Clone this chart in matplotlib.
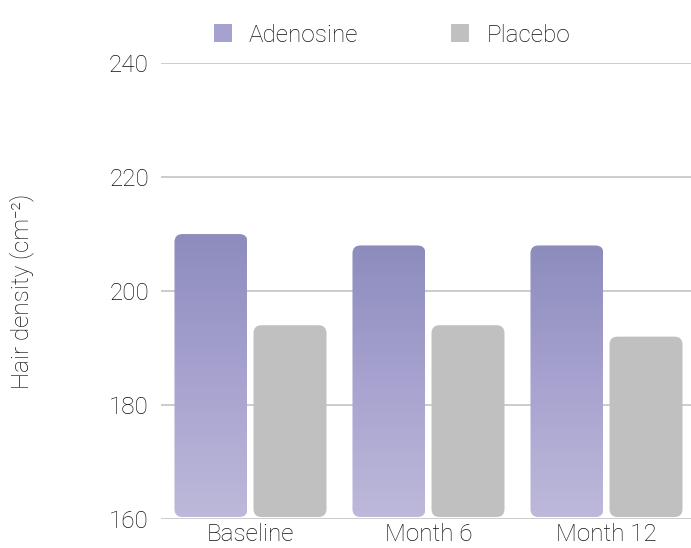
import numpy as np
import matplotlib.pyplot as plt
from matplotlib.patches import FancyBboxPatch, Patch
from matplotlib.colors import LinearSegmentedColormap

plt.rcParams['font.family'] = ['Roboto', 'DejaVu Sans']
plt.rcParams['font.weight'] = 'light'
plt.rcParams['axes.labelweight'] = 'light'

categories = ["Baseline", "Month 6", "Month 12"]
adenosine = [210, 208, 208]
placebo = [194, 194, 192]
y_ticks = [160, 180, 200, 220, 240]

fig = plt.figure(figsize=(6.91, 5.48), dpi=100)
ax_rect = [0.2337, 0.0529, 0.7728, 0.832]
ax = fig.add_axes(ax_rect)

ymin, ymax = 160, 240
xmin, xmax = -0.5, 2.5

# px per data unit, for round corners
px_x = ax_rect[2] * 691 / (xmax - xmin)
px_y = ax_rect[3] * 548 / (ymax - ymin)
aspect = px_x / px_y

grad_cmap = LinearSegmentedColormap.from_list("ado", ["#bdb9da", "#a7a2cf", "#8c8cbd"])

width = 0.41
offset = 0.222
base = 160.35
r = 8 / px_x
txt = "#111111"

x = np.arange(len(categories))

def rounded_bar(xc, top, face=None, gradient=False):
    patch = FancyBboxPatch((xc - width / 2, base), width, top - base,
                           boxstyle=f"round,pad=0,rounding_size={r}",
                           mutation_aspect=aspect,
                           facecolor=face if face else "none",
                           edgecolor="none", zorder=3)
    ax.add_patch(patch)
    if gradient:
        g = np.linspace(0, 1, 256).reshape(-1, 1)
        im = ax.imshow(g, cmap=grad_cmap, origin="lower", aspect="auto",
                       extent=[xc - width / 2, xc + width / 2, base, top],
                       zorder=3)
        im.set_clip_path(patch)

for i in range(len(categories)):
    rounded_bar(x[i] - offset, adenosine[i], gradient=True)
    rounded_bar(x[i] + offset, placebo[i], face="#c0c0c0")

ax.set_xlim(xmin, xmax)
ax.set_ylim(ymin, ymax)

for yv in y_ticks:
    ax.axhline(yv, color="#c8c8c8", lw=1.3, zorder=1)

for s in ax.spines.values():
    s.set_visible(False)

ax.set_yticks(y_ticks)
ax.set_xticks(x)
ax.set_xticklabels(categories)
ax.tick_params(axis="both", length=0, labelsize=17.5, colors=txt)
ax.tick_params(axis="y", pad=9)
ax.tick_params(axis="x", pad=3)

ax.set_ylabel("Hair density (cm⁻²)", fontsize=17.5, color=txt, fontweight="light", labelpad=54)

handles = [Patch(facecolor="#a5a2cf", edgecolor="none", label="Adenosine"),
           Patch(facecolor="#c0c0c0", edgecolor="none", label="Placebo")]
fig.legend(handles=handles, loc="center", bbox_to_anchor=(0.567, 0.936), ncol=2,
           frameon=False, fontsize=17.5, handlelength=0.76, handleheight=0.76,
           handletextpad=0.7, columnspacing=3.8, labelcolor=txt)

fig.savefig("out.png", dpi=100)
